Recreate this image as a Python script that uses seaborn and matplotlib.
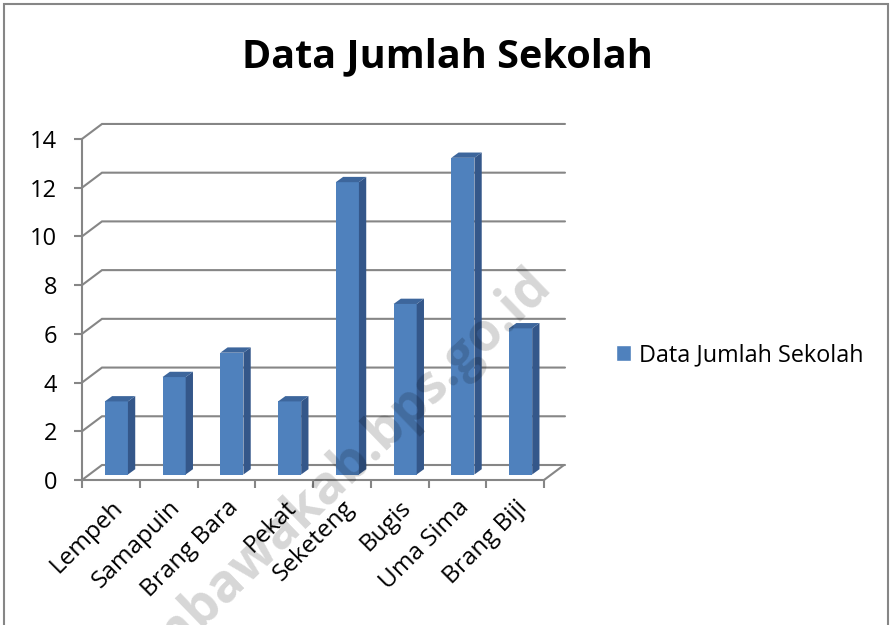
import numpy as np
import pandas as pd
import matplotlib
matplotlib.use('Agg')
import matplotlib.pyplot as plt
import matplotlib.transforms as mtransforms
from matplotlib.patches import Polygon, Rectangle, Patch
import seaborn as sns

# data
desa = ['Lempeh', 'Samapuin', 'Brang Bara', 'Pekat', 'Seketeng', 'Bugis', 'Uma Sima', 'Brang Biji']
jumlah_sekolah = [3, 4, 5, 3, 12, 7, 13, 6]
y_ticks = [0, 2, 4, 6, 8, 10, 12, 14]
judul = 'Data Jumlah Sekolah'
label_seri = 'Data Jumlah Sekolah'
watermark = 'sumbawakab.bps.go.id'

df = pd.DataFrame({'desa': desa, 'jumlah': jumlah_sekolah})

sns.set_style('white')
plt.rcParams['font.family'] = ['Open Sans', 'DejaVu Sans']
plt.rcParams['text.color'] = 'black'

# colours (excel 2007 look)
front_c = '#4F81BD'
side_c = '#34578A'
top_c = '#3D669C'
grid_c = '#868686'

W, H = 894, 625
fig = plt.figure(figsize=(W / 100, H / 100), dpi=100)

# plot area in pixels (front frame up to end of back wall)
px_left, px_right, px_bottom, px_top = 82, 565, 480, 123
ax = fig.add_axes([px_left / W, 1 - px_bottom / H,
                   (px_right - px_left) / W, (px_bottom - px_top) / H])

ux = 57.75   # px per category
uy = 24.36   # px per unit on y
xmin = -0.5
xmax = xmin + (px_right - px_left) / ux
ymax = (px_bottom - px_top) / uy

# depth of the back wall and of the bars, px -> data units
wall_dx, wall_dy = 20 / ux, 15 / uy
bar_dx, bar_dy = 7.3 / ux, 5.3 / uy

sns.barplot(data=df, x='desa', y='jumlah', color=front_c, saturation=1,
            width=0.4, linewidth=0, ax=ax, zorder=3)

# push the bars half way into the floor and give them sides + tops
offset = mtransforms.ScaledTranslation(5.5 / 100, 5.5 / 100, fig.dpi_scale_trans)
tr = ax.transData + offset
for p in list(ax.patches):
    x, w, h = p.get_x(), p.get_width(), p.get_height()
    p.set_transform(tr)
    p.set_clip_on(False)
    side = Polygon([(x + w, 0), (x + w + bar_dx, bar_dy), (x + w + bar_dx, h + bar_dy), (x + w, h)],
                   closed=True, facecolor=side_c, edgecolor='none', transform=tr, zorder=3, clip_on=False)
    top = Polygon([(x, h), (x + bar_dx, h + bar_dy), (x + w + bar_dx, h + bar_dy), (x + w, h)],
                  closed=True, facecolor=top_c, edgecolor='none', transform=tr, zorder=3, clip_on=False)
    ax.add_patch(side)
    ax.add_patch(top)

# back wall gridlines and floor
for v in y_ticks:
    ax.plot([xmin, xmin + wall_dx, xmax], [v, v + wall_dy, v + wall_dy],
            color=grid_c, lw=1.5, zorder=1, clip_on=False, solid_joinstyle='miter')
n = len(desa)
ax.plot([n - 0.5, n - 0.5 + wall_dx], [0, wall_dy], color=grid_c, lw=1.5, zorder=1, clip_on=False)

ax.set_xlim(xmin, xmax)
ax.set_ylim(0, ymax)
ax.set_xlabel('')
ax.set_ylabel('')

for s in ['top', 'right']:
    ax.spines[s].set_visible(False)
for s in ['left', 'bottom']:
    ax.spines[s].set_color(grid_c)
    ax.spines[s].set_linewidth(1.5)
ax.spines['left'].set_bounds(0, y_ticks[-1])
ax.spines['bottom'].set_bounds(-0.5, n - 0.5)

ax.set_yticks(y_ticks)
ax.set_yticklabels([str(v) for v in y_ticks])
ax.tick_params(axis='y', left=True, direction='out', length=6, width=1.5,
               color=grid_c, pad=12, labelsize=17, labelcolor='black')

ax.set_xticks(range(n))
ax.set_xticklabels(desa)
ax.set_xticks(np.arange(-0.5, n, 1), minor=True)
ax.tick_params(axis='x', which='major', bottom=True, length=0, pad=11, labelsize=17.5, labelcolor='black')
ax.tick_params(axis='x', which='minor', bottom=True, direction='out', length=6, width=1.5, color=grid_c)
for lbl in ax.get_xticklabels():
    lbl.set_rotation(45)
    lbl.set_ha('right')
    lbl.set_va('top')
    lbl.set_rotation_mode('anchor')

ax.legend(handles=[Patch(facecolor=front_c, label=label_seri)], loc='center left',
          bbox_to_anchor=(616 / W, 1 - 355 / H), bbox_transform=fig.transFigure,
          frameon=False, fontsize=16.8, handlelength=0.65, handleheight=0.65,
          handletextpad=0.33, borderpad=0, borderaxespad=0)

fig.text(0.5, 1 - 67 / H, judul, ha='center', va='baseline', fontsize=28.5, fontweight='bold')

# chart area border
fig.add_artist(Rectangle((4 / W, -0.1), (888 - 4) / W, 1.1 - 4 / H, transform=fig.transFigure,
                         fill=False, edgecolor=grid_c, lw=1.5))

fig.text(553 / W, 1 - 288 / H, watermark, rotation=44, ha='right', va='baseline',
         rotation_mode='anchor', fontsize=38, fontweight='bold', color='black', alpha=0.16, zorder=10)

fig.savefig('out.png', dpi=100)
